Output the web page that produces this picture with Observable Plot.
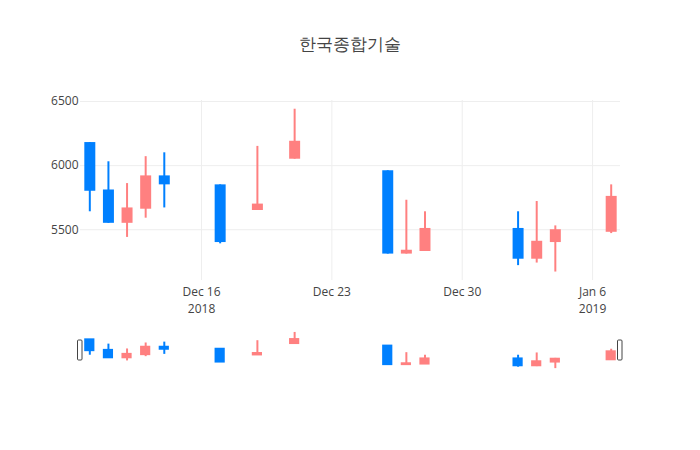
<!DOCTYPE html>
<html>
<head>
<meta charset="utf-8">
<script src="https://cdn.jsdelivr.net/npm/d3@7"></script>
<script src="https://cdn.jsdelivr.net/npm/@observablehq/plot@0.6"></script>
<style>
  html, body { margin: 0; padding: 0; background: #fff; }
  #wrap { position: relative; width: 700px; height: 450px; font-family: "Open Sans", sans-serif; }
  #title { position: absolute; left: 0; top: 32px; width: 700px; text-align: center; font-size: 17px; color: #444; line-height: 24px; }
  #main { position: absolute; left: 0; top: 60px; }
  #slider { position: absolute; left: 0; top: 320px; }
</style>
</head>
<body>
<div id="wrap">
  <div id="title">한국종합기술</div>
  <div id="main"></div>
  <div id="slider"></div>
</div>
<script>
// ---- data ----
const dates  = ["2018-12-10","2018-12-11","2018-12-12","2018-12-13","2018-12-14","2018-12-17","2018-12-19","2018-12-21","2018-12-26","2018-12-27","2018-12-28","2019-01-02","2019-01-03","2019-01-04","2019-01-07"];
const opens  = [6180, 5810, 5550, 5660, 5920, 5850, 5650, 6050, 5960, 5310, 5330, 5510, 5270, 5400, 5480];
const highs  = [6180, 6030, 5860, 6070, 6100, 5850, 6150, 6440, 5960, 5730, 5640, 5640, 5720, 5530, 5850];
const lows   = [5640, 5550, 5440, 5590, 5670, 5390, 5650, 6050, 5310, 5310, 5330, 5220, 5240, 5170, 5470];
const closes = [5800, 5550, 5670, 5920, 5850, 5400, 5700, 6190, 5310, 5340, 5510, 5270, 5410, 5500, 5760];

const xRange = ["2018-12-09T12:00Z", "2019-01-07T12:00Z"];
const yRange = [5104, 6508];
const xTicks = ["2018-12-16", "2018-12-23", "2018-12-30", "2019-01-06"];
const xTickLabels = ["Dec 16\n2018", "Dec 23", "Dec 30", "Jan 6\n2019"];
const yTicks = [5500, 6000, 6500];

const upColor = "#FF8080";
const downColor = "#0080FF";

// ---- table ----
const rows = dates.map((d, i) => ({
  date: new Date(d + "T00:00Z"),
  open: opens[i], high: highs[i], low: lows[i], close: closes[i],
  up: closes[i] >= opens[i]
}));
const tickDates = xTicks.map(d => new Date(d + "T00:00Z"));
const labelFor = d => xTickLabels[tickDates.findIndex(t => +t === +d)];
const col = r => r.up ? upColor : downColor;
const halfBody = 0.22 * 864e5;

const main = Plot.plot({
  width: 700,
  height: 260,
  marginTop: 40,
  marginBottom: 40,
  marginLeft: 80,
  marginRight: 80,
  style: { fontFamily: "Open Sans, sans-serif", fontSize: "12px", color: "#444", background: "#fff" },
  x: { type: "utc", domain: xRange.map(d => new Date(d)) },
  y: { domain: yRange },
  marks: [
    Plot.gridX(tickDates, { stroke: "#eee", strokeOpacity: 1 }),
    Plot.gridY(yTicks, { stroke: "#eee", strokeOpacity: 1 }),
    Plot.axisX({ ticks: tickDates, tickFormat: labelFor, tickSize: 0, tickPadding: 4, lineHeight: 1.4, fill: "#444", fontSize: 12, label: null }),
    Plot.axisY({ ticks: yTicks, tickFormat: d => String(d), tickSize: 0, tickPadding: 2, fill: "#444", fontSize: 12, label: null }),
    Plot.ruleX(rows, { x: "date", y1: "low", y2: "high", stroke: col, strokeWidth: 2 }),
    Plot.ruleX(rows, { x: "date", y1: "open", y2: "close", stroke: col, strokeWidth: 11 })
  ]
});
document.getElementById("main").append(main);

const slider = Plot.plot({
  width: 700,
  height: 50,
  marginTop: 10,
  marginBottom: 0,
  marginLeft: 80,
  marginRight: 80,
  style: { fontFamily: "Open Sans, sans-serif", background: "transparent" },
  x: { type: "utc", domain: xRange.map(d => new Date(d)), axis: null },
  y: { domain: yRange, axis: null },
  marks: [
    Plot.ruleX(rows, { x: "date", y1: "low", y2: "high", stroke: col, strokeWidth: 2 }),
    Plot.rect(rows, {
      x1: r => new Date(+r.date - halfBody), x2: r => new Date(+r.date + halfBody),
      y1: "open", y2: "close", fill: col, stroke: col, strokeWidth: 2
    }),
    (index, scales, values, dims) => {
      const g = d3.create("svg:g");
      const top = dims.marginTop, h = dims.height - dims.marginTop - dims.marginBottom;
      const xs = [dims.marginLeft - 2.5, dims.width - dims.marginRight - 2.5];
      for (const x of xs) {
        g.append("rect")
          .attr("x", x).attr("y", top + h / 4)
          .attr("width", 4.5).attr("height", h / 2)
          .attr("rx", 1)
          .attr("fill", "#fff").attr("stroke", "#444").attr("stroke-width", 1);
      }
      return g.node();
    }
  ]
});
document.getElementById("slider").append(slider);
</script>
</body>
</html>
